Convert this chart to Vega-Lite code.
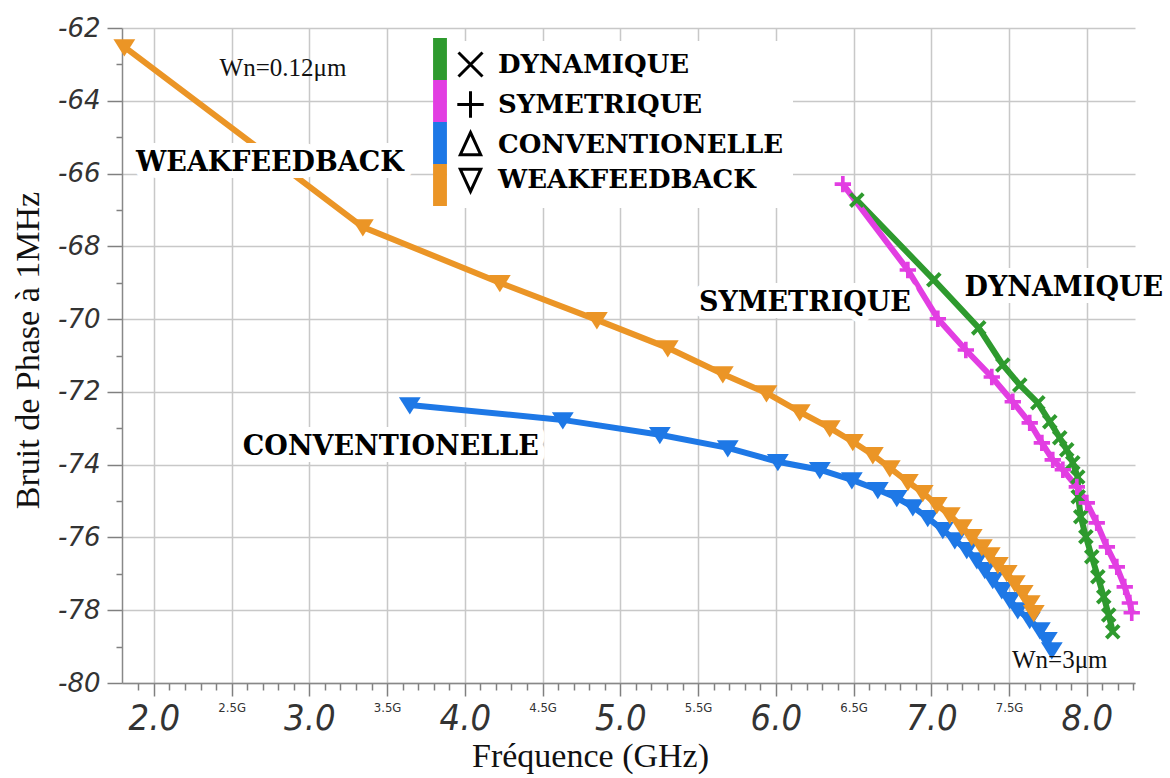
{
  "$schema": "https://vega.github.io/schema/vega-lite/v6.json",
  "width": 1013,
  "height": 655,
  "autosize": {"type": "none"},
  "padding": {"left": 122, "top": 28, "right": 35, "bottom": 95},
  "background": "white",
  "config": {"view": {"stroke": null}},
  "datasets": {
    "courbes": [
      {"serie": "CONVENTIONELLE", "i": 1, "f": 3.646, "v": -72.36},
      {"serie": "CONVENTIONELLE", "i": 2, "f": 4.63, "v": -72.77},
      {"serie": "CONVENTIONELLE", "i": 3, "f": 5.254, "v": -73.18},
      {"serie": "CONVENTIONELLE", "i": 4, "f": 5.691, "v": -73.54},
      {"serie": "CONVENTIONELLE", "i": 5, "f": 6.013, "v": -73.92},
      {"serie": "CONVENTIONELLE", "i": 6, "f": 6.283, "v": -74.14},
      {"serie": "CONVENTIONELLE", "i": 7, "f": 6.489, "v": -74.42},
      {"serie": "CONVENTIONELLE", "i": 8, "f": 6.656, "v": -74.69},
      {"serie": "CONVENTIONELLE", "i": 9, "f": 6.778, "v": -74.91},
      {"serie": "CONVENTIONELLE", "i": 10, "f": 6.881, "v": -75.16},
      {"serie": "CONVENTIONELLE", "i": 11, "f": 6.977, "v": -75.46},
      {"serie": "CONVENTIONELLE", "i": 12, "f": 7.074, "v": -75.79},
      {"serie": "CONVENTIONELLE", "i": 13, "f": 7.151, "v": -76.07},
      {"serie": "CONVENTIONELLE", "i": 14, "f": 7.228, "v": -76.34},
      {"serie": "CONVENTIONELLE", "i": 15, "f": 7.293, "v": -76.62},
      {"serie": "CONVENTIONELLE", "i": 16, "f": 7.344, "v": -76.89},
      {"serie": "CONVENTIONELLE", "i": 17, "f": 7.395, "v": -77.16},
      {"serie": "CONVENTIONELLE", "i": 18, "f": 7.453, "v": -77.44},
      {"serie": "CONVENTIONELLE", "i": 19, "f": 7.505, "v": -77.71},
      {"serie": "CONVENTIONELLE", "i": 20, "f": 7.556, "v": -77.99},
      {"serie": "CONVENTIONELLE", "i": 21, "f": 7.633, "v": -78.26},
      {"serie": "CONVENTIONELLE", "i": 22, "f": 7.698, "v": -78.54},
      {"serie": "CONVENTIONELLE", "i": 23, "f": 7.743, "v": -78.81},
      {"serie": "CONVENTIONELLE", "i": 24, "f": 7.775, "v": -79.09},
      {"serie": "WEAKFEEDBACK", "i": 1, "f": 1.81, "v": -62.52},
      {"serie": "WEAKFEEDBACK", "i": 2, "f": 3.344, "v": -67.47},
      {"serie": "WEAKFEEDBACK", "i": 3, "f": 4.225, "v": -69.0},
      {"serie": "WEAKFEEDBACK", "i": 4, "f": 4.849, "v": -70.02},
      {"serie": "WEAKFEEDBACK", "i": 5, "f": 5.305, "v": -70.79},
      {"serie": "WEAKFEEDBACK", "i": 6, "f": 5.659, "v": -71.51},
      {"serie": "WEAKFEEDBACK", "i": 7, "f": 5.94, "v": -72.03},
      {"serie": "WEAKFEEDBACK", "i": 8, "f": 6.154, "v": -72.55},
      {"serie": "WEAKFEEDBACK", "i": 9, "f": 6.347, "v": -72.99},
      {"serie": "WEAKFEEDBACK", "i": 10, "f": 6.495, "v": -73.37},
      {"serie": "WEAKFEEDBACK", "i": 11, "f": 6.624, "v": -73.73},
      {"serie": "WEAKFEEDBACK", "i": 12, "f": 6.733, "v": -74.09},
      {"serie": "WEAKFEEDBACK", "i": 13, "f": 6.849, "v": -74.47},
      {"serie": "WEAKFEEDBACK", "i": 14, "f": 6.945, "v": -74.77},
      {"serie": "WEAKFEEDBACK", "i": 15, "f": 7.035, "v": -75.1},
      {"serie": "WEAKFEEDBACK", "i": 16, "f": 7.119, "v": -75.38},
      {"serie": "WEAKFEEDBACK", "i": 17, "f": 7.196, "v": -75.71},
      {"serie": "WEAKFEEDBACK", "i": 18, "f": 7.26, "v": -75.98},
      {"serie": "WEAKFEEDBACK", "i": 19, "f": 7.325, "v": -76.26},
      {"serie": "WEAKFEEDBACK", "i": 20, "f": 7.376, "v": -76.48},
      {"serie": "WEAKFEEDBACK", "i": 21, "f": 7.428, "v": -76.75},
      {"serie": "WEAKFEEDBACK", "i": 22, "f": 7.485, "v": -76.97},
      {"serie": "WEAKFEEDBACK", "i": 23, "f": 7.537, "v": -77.25},
      {"serie": "WEAKFEEDBACK", "i": 24, "f": 7.588, "v": -77.52},
      {"serie": "WEAKFEEDBACK", "i": 25, "f": 7.633, "v": -77.8},
      {"serie": "WEAKFEEDBACK", "i": 26, "f": 7.659, "v": -78.07},
      {"serie": "DYNAMIQUE", "i": 1, "f": 6.521, "v": -66.73},
      {"serie": "DYNAMIQUE", "i": 2, "f": 7.016, "v": -68.92},
      {"serie": "DYNAMIQUE", "i": 3, "f": 7.305, "v": -70.24},
      {"serie": "DYNAMIQUE", "i": 4, "f": 7.46, "v": -71.26},
      {"serie": "DYNAMIQUE", "i": 5, "f": 7.569, "v": -71.81},
      {"serie": "DYNAMIQUE", "i": 6, "f": 7.685, "v": -72.3},
      {"serie": "DYNAMIQUE", "i": 7, "f": 7.762, "v": -72.82},
      {"serie": "DYNAMIQUE", "i": 8, "f": 7.826, "v": -73.26},
      {"serie": "DYNAMIQUE", "i": 9, "f": 7.871, "v": -73.59},
      {"serie": "DYNAMIQUE", "i": 10, "f": 7.91, "v": -73.95},
      {"serie": "DYNAMIQUE", "i": 11, "f": 7.942, "v": -74.34},
      {"serie": "DYNAMIQUE", "i": 12, "f": 7.945, "v": -74.88},
      {"serie": "DYNAMIQUE", "i": 13, "f": 7.961, "v": -75.43},
      {"serie": "DYNAMIQUE", "i": 14, "f": 7.994, "v": -75.98},
      {"serie": "DYNAMIQUE", "i": 15, "f": 8.032, "v": -76.53},
      {"serie": "DYNAMIQUE", "i": 16, "f": 8.071, "v": -77.08},
      {"serie": "DYNAMIQUE", "i": 17, "f": 8.109, "v": -77.63},
      {"serie": "DYNAMIQUE", "i": 18, "f": 8.141, "v": -78.13},
      {"serie": "DYNAMIQUE", "i": 19, "f": 8.167, "v": -78.59},
      {"serie": "SYMETRIQUE", "i": 1, "f": 6.431, "v": -66.29},
      {"serie": "SYMETRIQUE", "i": 2, "f": 6.849, "v": -68.65},
      {"serie": "SYMETRIQUE", "i": 3, "f": 7.042, "v": -69.99},
      {"serie": "SYMETRIQUE", "i": 4, "f": 7.222, "v": -70.85},
      {"serie": "SYMETRIQUE", "i": 5, "f": 7.389, "v": -71.59},
      {"serie": "SYMETRIQUE", "i": 6, "f": 7.524, "v": -72.27},
      {"serie": "SYMETRIQUE", "i": 7, "f": 7.633, "v": -72.85},
      {"serie": "SYMETRIQUE", "i": 8, "f": 7.711, "v": -73.4},
      {"serie": "SYMETRIQUE", "i": 9, "f": 7.781, "v": -73.87},
      {"serie": "SYMETRIQUE", "i": 10, "f": 7.846, "v": -74.14},
      {"serie": "SYMETRIQUE", "i": 11, "f": 7.936, "v": -74.61},
      {"serie": "SYMETRIQUE", "i": 12, "f": 8.0, "v": -75.05},
      {"serie": "SYMETRIQUE", "i": 13, "f": 8.064, "v": -75.6},
      {"serie": "SYMETRIQUE", "i": 14, "f": 8.129, "v": -76.26},
      {"serie": "SYMETRIQUE", "i": 15, "f": 8.193, "v": -76.81},
      {"serie": "SYMETRIQUE", "i": 16, "f": 8.244, "v": -77.36},
      {"serie": "SYMETRIQUE", "i": 17, "f": 8.277, "v": -77.8},
      {"serie": "SYMETRIQUE", "i": 18, "f": 8.289, "v": -78.07}
    ],
    "notes": [
      {"label": "WEAKFEEDBACK", "f": 2.746, "v": -65.71},
      {"label": "CONVENTIONELLE", "f": 3.524, "v": -73.51},
      {"label": "SYMETRIQUE", "f": 6.187, "v": -69.55},
      {"label": "DYNAMIQUE", "f": 7.852, "v": -69.14}
    ],
    "wn": [
      {"label": "Wn=0.12μm", "f": 2.83, "v": -63.1},
      {"label": "Wn=3μm", "f": 7.826, "v": -79.36}
    ]
  },
  "encoding": {
    "x": {
      "field": "f",
      "type": "quantitative",
      "scale": {"domain": [1.795, 8.31], "nice": false, "zero": false},
      "axis": {
        "title": "Fréquence (GHz)",
        "values": [1.9, 2, 2.1, 2.2, 2.3, 2.4, 2.5, 2.6, 2.7, 2.8, 2.9, 3, 3.1, 3.2, 3.3, 3.4, 3.5, 3.6, 3.7, 3.8, 3.9, 4, 4.1, 4.2, 4.3, 4.4, 4.5, 4.6, 4.7, 4.8, 4.9, 5, 5.1, 5.2, 5.3, 5.4, 5.5, 5.6, 5.7, 5.8, 5.9, 6, 6.1, 6.2, 6.3, 6.4, 6.5, 6.6, 6.7, 6.8, 6.9, 7, 7.1, 7.2, 7.3, 7.4, 7.5, 7.6, 7.7, 7.8, 7.9, 8, 8.1, 8.2, 8.3],
        "labelExpr": "abs(datum.value*2-round(datum.value*2))>0.01 ? '' : (abs(datum.value-round(datum.value))<0.01 ? format(datum.value,'.1f') : format(datum.value,'.1f')+'G')",
        "labelOverlap": false,
        "labelBound": false,
        "labelFlush": false,
        "labelFontSize": {"condition": {"test": "abs(datum.value-round(datum.value))<0.01", "value": 36}, "value": 13},
        "labelFont": {"condition": {"test": "abs(datum.value-round(datum.value))<0.01", "value": "Liberation Sans Narrow, DejaVu Sans Condensed, sans-serif"}, "value": "DejaVu Sans Condensed, sans-serif"},
        "labelFontStyle": {"condition": {"test": "abs(datum.value-round(datum.value))<0.01", "value": "italic"}, "value": "normal"},
        "labelColor": "#333333",
        "labelBaseline": "top",
        "labelPadding": 5,
        "tickSize": {"condition": {"test": "abs(datum.value*2-round(datum.value*2))<0.01", "value": 13}, "value": 7},
        "tickColor": "#808080",
        "tickWidth": 1.5,
        "grid": true,
        "gridOpacity": {"condition": {"test": "abs(datum.value*2-round(datum.value*2))<0.01", "value": 1}, "value": 0},
        "gridColor": "#c8c8c8",
        "gridWidth": 1.5,
        "domainColor": "#888888",
        "domainWidth": 1.5,
        "titleFont": "Liberation Serif",
        "titleFontSize": 34,
        "titleFontWeight": "normal",
        "titleColor": "#111111",
        "titleX": 468,
        "titleY": 83,
        "titleAlign": "center",
        "titleBaseline": "alphabetic"
      }
    },
    "y": {
      "field": "v",
      "type": "quantitative",
      "scale": {"domain": [-80, -62], "nice": false, "zero": false},
      "axis": {
        "title": "Bruit de Phase à 1MHz",
        "values": [-80, -79, -78, -77, -76, -75, -74, -73, -72, -71, -70, -69, -68, -67, -66, -65, -64, -63, -62],
        "labelExpr": "datum.value % 2 == 0 ? '-' + abs(datum.value) : ''",
        "labelOverlap": false,
        "labelBound": false,
        "labelFlush": false,
        "labelFont": "DejaVu Sans",
        "labelFontStyle": "italic",
        "labelFontSize": 26,
        "labelColor": "#333333",
        "labelPadding": 7,
        "tickSize": {"condition": {"test": "datum.value % 2 == 0", "value": 15}, "value": 6},
        "tickColor": "#808080",
        "tickWidth": 1.5,
        "grid": true,
        "gridOpacity": {"condition": {"test": "datum.value % 2 == 0", "value": 1}, "value": 0},
        "gridColor": "#c8c8c8",
        "gridWidth": 1.5,
        "domainColor": "#888888",
        "domainWidth": 1.5,
        "titleFont": "Liberation Serif",
        "titleFontSize": 34,
        "titleFontWeight": "normal",
        "titleColor": "#111111",
        "titleX": -84,
        "titleY": 322,
        "titleAlign": "center",
        "titleBaseline": "alphabetic",
        "titleAngle": -90
      }
    }
  },
  "layer": [
    {
      "data": {"name": "courbes"},
      "mark": {"type": "line", "strokeWidth": 6},
      "encoding": {
        "order": {"field": "i", "type": "quantitative"},
        "stroke": {
          "field": "serie",
          "type": "nominal",
          "scale": {"domain": ["DYNAMIQUE", "SYMETRIQUE", "CONVENTIONELLE", "WEAKFEEDBACK"], "range": ["#2e9a2e", "#e23ee2", "#1e78e6", "#eb9526"]},
          "legend": null
        }
      }
    },
    {
      "data": {"name": "courbes"},
      "mark": {"type": "point", "filled": true, "strokeWidth": 0, "size": 330, "opacity": 1},
      "encoding": {
        "fill": {
          "field": "serie",
          "type": "nominal",
          "sort": ["DYNAMIQUE", "SYMETRIQUE", "CONVENTIONELLE", "WEAKFEEDBACK"],
          "scale": {"range": ["#2e9a2e", "#e23ee2", "#1e78e6", "#eb9526"]},
          "legend": {
            "orient": "none",
            "legendX": 297,
            "legendY": 10,
            "title": null,
            "symbolType": "M-0.33,-1H0.33V1H-0.33Z",
            "symbolSize": 1764,
            "symbolStrokeWidth": 0,
            "symbolOpacity": 1,
            "labelExpr": "''",
            "labelFontSize": 1,
            "labelOffset": 0,
            "rowPadding": 0,
            "padding": 0,
            "offset": 0
          }
        },
        "shape": {
          "field": "serie",
          "type": "nominal",
          "scale": {"domain": ["DYNAMIQUE", "SYMETRIQUE", "CONVENTIONELLE", "WEAKFEEDBACK"], "range": ["M0.55,-0.86L0.86,-0.55L0.31,0L0.86,0.55L0.55,0.86L0,0.31L-0.55,0.86L-0.86,0.55L-0.31,0L-0.86,-0.55L-0.55,-0.86L0,-0.31Z", "M-0.2,-0.9H0.2V-0.2H0.9V0.2H0.2V0.9H-0.2V0.2H-0.9V-0.2H-0.2Z", "M-1.2,-0.85L1.2,-0.85L0,1.05Z", "M-1.2,-0.85L1.2,-0.85L0,1.05Z"]},
          "legend": null
        }
      }
    },
    {
      "data": {"name": "courbes"},
      "mark": {"type": "point", "filled": false, "opacity": 0},
      "encoding": {
        "shape": {
          "field": "serie",
          "type": "nominal",
          "scale": {"domain": ["DYNAMIQUE", "SYMETRIQUE", "CONVENTIONELLE", "WEAKFEEDBACK"], "range": ["M-1,-1L1,1M1,-1L-1,1", "M-1.1,0L1.1,0M0,-1.1L0,1.1", "M0,-1L0.85,0.85L-0.85,0.85Z", "M0,1L0.85,-0.85L-0.85,-0.85Z"]},
          "legend": {
            "orient": "none",
            "legendX": 325,
            "legendY": 13,
            "title": null,
            "symbolSize": 576,
            "symbolFillColor": "transparent",
            "symbolStrokeColor": "black",
            "symbolStrokeWidth": 3,
            "symbolOpacity": 1,
            "labelFont": "DejaVu Serif",
            "labelFontWeight": "bold",
            "labelFontSize": 26,
            "labelColor": "#000000",
            "labelLimit": 0,
            "labelOffset": 14,
            "rowPadding": 2,
            "padding": 10,
            "offset": 0,
            "fillColor": "white"
          }
        }
      }
    },
    {
      "data": {"name": "notes"},
      "mark": {"type": "text", "font": "DejaVu Serif", "fontWeight": "bold", "fontSize": 27, "stroke": "white", "strokeWidth": 14, "strokeJoin": "round", "fill": "white", "align": "center", "baseline": "middle"},
      "encoding": {"text": {"field": "label"}}
    },
    {
      "data": {"name": "notes"},
      "mark": {"type": "text", "font": "DejaVu Serif", "fontWeight": "bold", "fontSize": 27, "fill": "black", "align": "center", "baseline": "middle"},
      "encoding": {"text": {"field": "label"}}
    },
    {
      "data": {"name": "wn"},
      "mark": {"type": "text", "font": "Liberation Serif", "fontSize": 25, "fill": "#111111", "align": "center", "baseline": "middle"},
      "encoding": {"text": {"field": "label"}}
    }
  ],
  "resolve": {"scale": {"shape": "independent"}, "legend": {"shape": "independent"}}
}
